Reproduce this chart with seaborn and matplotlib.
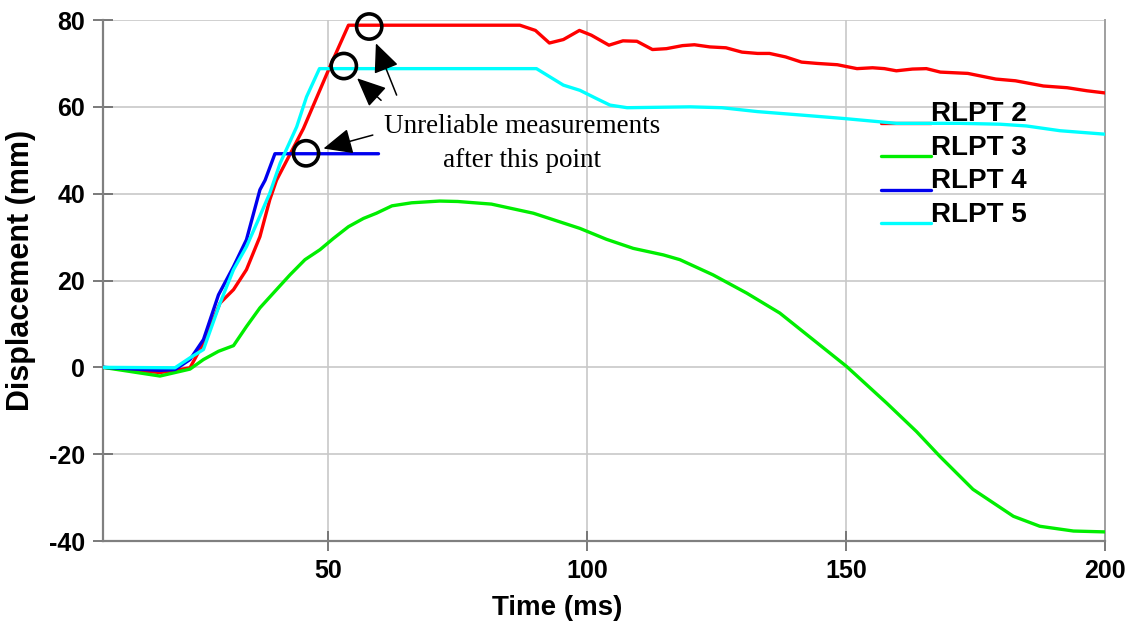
import numpy as np
import pandas as pd
import matplotlib
matplotlib.use("Agg")
import matplotlib.pyplot as plt
import seaborn as sns
from matplotlib.lines import Line2D
from matplotlib.legend_handler import HandlerLine2D

# ---------------- data ----------------
t_rlpt2 = [6.5, 17.5, 20.4, 23.3, 25.9, 29.1, 31.7, 34.2, 36.8, 38.7, 40.0, 45.2, 50.3, 53.9,
           87.0, 90.0, 92.7, 95.4, 98.5, 100.8, 104.2, 106.9, 109.6, 112.6, 115.3, 118.4,
           120.7, 123.7, 126.8, 129.9, 132.9, 135.2, 138.3, 141.4, 144.4, 148.3, 152.1, 155.1,
           157.4, 159.7, 162.8, 165.5, 168.2, 173.5, 178.9, 182.7, 188.1, 192.7, 196.5, 200.0]
d_rlpt2 = [0.0, -1.2, -0.7, -0.1, 5.6, 14.8, 17.9, 22.5, 30.1, 38.6, 43.1, 55.0, 69.2, 78.8,
           78.8, 77.6, 74.7, 75.5, 77.6, 76.5, 74.2, 75.2, 75.1, 73.2, 73.4, 74.1,
           74.3, 73.8, 73.6, 72.6, 72.3, 72.3, 71.5, 70.3, 70.0, 69.7, 68.8, 69.0,
           68.8, 68.3, 68.7, 68.8, 68.0, 67.7, 66.4, 66.0, 64.8, 64.4, 63.7, 63.2]

t_rlpt3 = [6.5, 17.5, 23.3, 25.9, 28.8, 31.7, 34.2, 36.8, 40.0, 42.6, 45.5, 48.4, 51.0, 53.9,
           56.8, 59.3, 62.3, 66.1, 71.5, 75.0, 81.5, 89.6, 98.6, 103.7, 108.9, 114.7, 117.9,
           124.3, 130.8, 137.2, 143.6, 150.1, 157.8, 163.6, 168.1, 174.5, 182.3, 187.4, 193.9, 200.0]
d_rlpt3 = [0.0, -2.0, -0.4, 1.8, 3.7, 5.0, 9.4, 13.7, 17.9, 21.3, 24.8, 27.1, 29.7, 32.4,
           34.3, 35.5, 37.2, 37.9, 38.3, 38.2, 37.6, 35.5, 32.0, 29.5, 27.4, 25.9, 24.8,
           21.3, 17.1, 12.5, 6.4, 0.2, -8.2, -14.8, -20.5, -28.1, -34.3, -36.6, -37.7, -37.9]

t_rlpt4 = [6.5, 17.5, 20.4, 23.3, 25.9, 28.8, 31.7, 34.2, 36.8, 37.8, 39.7, 59.7]
d_rlpt4 = [0.0, -0.7, -0.5, 1.8, 6.4, 16.7, 23.2, 29.4, 40.9, 43.1, 49.2, 49.2]

t_rlpt5 = [6.5, 20.4, 23.3, 25.9, 29.1, 31.7, 34.2, 36.2, 38.7, 40.7, 43.9, 45.8, 48.3, 90.2,
           92.8, 95.4, 98.6, 101.8, 104.4, 107.7, 119.9, 126.0, 132.9, 141.4, 149.7, 159.7,
           171.9, 179.7, 184.8, 191.3, 200.0]
d_rlpt5 = [0.0, -0.1, 2.2, 4.1, 14.8, 22.5, 27.8, 33.2, 40.1, 47.0, 55.4, 62.3, 68.8, 68.8,
           66.9, 65.0, 63.8, 61.9, 60.4, 59.8, 60.0, 59.8, 58.9, 58.1, 57.3, 56.2,
           56.2, 56.0, 55.6, 54.5, 53.7]

sensors = ["RLPT 2", "RLPT 3", "RLPT 4", "RLPT 5"]
colors = ["#ff0000", "#00ee00", "#0000ee", "#00ffff"]

# circled "unreliable" points
circ_t = [45.7, 53.0, 57.9]
circ_d = [49.3, 69.4, 78.5]
# arrow tails (text side)
tail_t = [58.6, 60.2, 63.2]
tail_d = [53.5, 61.5, 62.7]
note_text = "Unreliable measurements\nafter this point"
note_t, note_d = 87.4, 51.6

x_ticks = [50, 100, 150, 200]
y_ticks = [-40, -20, 0, 20, 40, 60, 80]

# ---------------- build long-form table ----------------
frames = []
for name, t, d in zip(sensors, [t_rlpt2, t_rlpt3, t_rlpt4, t_rlpt5],
                      [d_rlpt2, d_rlpt3, d_rlpt4, d_rlpt5]):
    frames.append(pd.DataFrame({"Time": t, "Displacement": d, "Sensor": name}))
df = pd.concat(frames, ignore_index=True)

sns.set_style("white")
plt.rcParams["font.family"] = ["Liberation Sans", "DejaVu Sans"]
plt.rcParams["axes.unicode_minus"] = False
plt.rcParams["text.color"] = "black"
plt.rcParams["axes.labelcolor"] = "black"
plt.rcParams["xtick.color"] = "black"
plt.rcParams["ytick.color"] = "black"

fig = plt.figure(figsize=(11.37, 6.33), dpi=100)
ax = fig.add_axes([0.0906, 0.1453, 0.8813, 0.8231])

sns.lineplot(data=df, x="Time", y="Displacement", hue="Sensor", hue_order=sensors,
             palette=colors, sort=False, estimator=None, linewidth=2.4, ax=ax,
             legend=False, zorder=3)

ax.set_xlim(6.5, 200)
ax.set_ylim(-40, 80)
ax.set_xticks(x_ticks)
ax.set_yticks(y_ticks)
ax.grid(True, color="#c8c8c8", linewidth=1.2)
ax.set_axisbelow(True)

ax.spines["top"].set_visible(False)
ax.spines["right"].set_color("#a0a0a0")
ax.spines["right"].set_linewidth(1.4)
for s in ["left", "bottom"]:
    ax.spines[s].set_color("#808080")
    ax.spines[s].set_linewidth(1.6)

ax.tick_params(axis="both", which="major", bottom=True, left=True, direction="inout",
               length=14, width=1.3, color="#707070", labelcolor="black",
               labelsize=18, pad=6)
for lab in ax.get_xticklabels() + ax.get_yticklabels():
    lab.set_fontweight("bold")

ax.set_xlabel("Time (ms)", fontsize=20, fontweight="bold", color="black")
ax.set_ylabel("Displacement (mm)", fontsize=22, fontweight="bold", color="black")
ax.xaxis.set_label_coords(0.453, -0.104)
ax.yaxis.set_label_coords(-0.067, 0.52)

# circles
ax.scatter(circ_t, circ_d, s=330, facecolors="none", edgecolors="black",
           linewidths=2.6, zorder=5, clip_on=False)
# arrows
for tt, td, ct, cd in zip(tail_t, tail_d, circ_t, circ_d):
    ax.annotate("", xy=(ct, cd), xytext=(tt, td),
                arrowprops=dict(arrowstyle="-|>,head_length=0.9,head_width=0.4",
                                color="black", lw=1.1, shrinkA=0, shrinkB=13,
                                mutation_scale=20),
                zorder=5)
ax.text(note_t, note_d, note_text, ha="center", va="center", fontsize=19.5,
        family=["Liberation Serif", "DejaVu Serif"], linespacing=1.45, zorder=6)


class LowLine(HandlerLine2D):
    def create_artists(self, legend, orig_handle, xdescent, ydescent, width, height,
                       fontsize, trans):
        arts = super().create_artists(legend, orig_handle, xdescent, ydescent, width,
                                      height, fontsize, trans)
        for a in arts:
            if isinstance(a, Line2D):
                xd = np.asarray(a.get_xdata(), float)
                a.set_ydata(np.full_like(xd, -0.05 * fontsize))
        return arts


handles = ax.get_lines()[:4]
leg = ax.legend(handles=handles, labels=sensors, loc="upper left",
                bbox_to_anchor=(0.765, 0.865), frameon=False,
                prop={"size": 20, "weight": "bold"}, handlelength=1.8,
                handletextpad=0.0, labelspacing=0.27, borderaxespad=0,
                handler_map={Line2D: LowLine()})
leg.set_zorder(2)
for txt in leg.get_texts():
    txt.set_color("black")

fig.savefig("out.png", dpi=100)
